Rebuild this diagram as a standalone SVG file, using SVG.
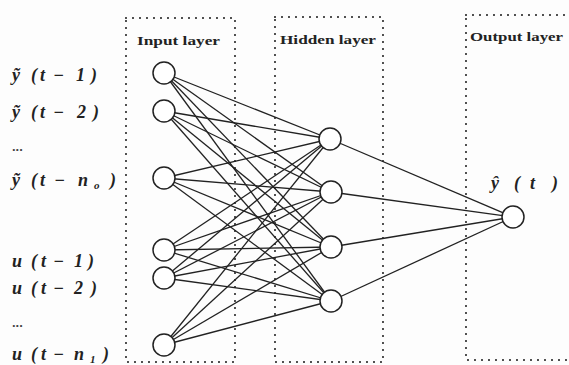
<svg xmlns="http://www.w3.org/2000/svg" width="569" height="365" viewBox="0 0 569 365">
  <style>
    .box { fill: none; stroke: #2a2a2a; stroke-width: 2.2; stroke-dasharray: 0 7; stroke-linecap: round; }
    .edge { stroke: #222; stroke-width: 1.3; fill: none; }
    .node { fill: #fff; stroke: #222; stroke-width: 1.5; }
    .layer { font-family: "Liberation Serif", "DejaVu Serif", serif; font-weight: bold; font-size: 13px; fill: #222; }
    .var { font-family: "Liberation Serif", "DejaVu Serif", serif; font-style: italic; font-weight: bold; font-size: 18px; fill: #222; }
    .dots { font-family: "Liberation Sans", sans-serif; font-weight: bold; font-size: 13px; fill: #444; }
    .sub { font-size: 11px; }
  </style>
  <rect width="569" height="365" fill="#fdfdfd"/>

  <!-- layer frames -->
  <g id="frames">
    <rect class="box" x="126" y="18" width="109" height="344"/>
    <rect class="box" x="275" y="17" width="108" height="345"/>
    <rect class="box" x="466" y="15" width="112" height="345"/>
  </g>

  <!-- connections: every input to every hidden unit, every hidden unit to the output -->
  <g id="connectors">
    <line class="edge" x1="164" y1="73" x2="330" y2="139"/>
    <line class="edge" x1="164" y1="73" x2="331" y2="192"/>
    <line class="edge" x1="164" y1="73" x2="331" y2="247"/>
    <line class="edge" x1="164" y1="73" x2="331" y2="301"/>
    <line class="edge" x1="164" y1="111" x2="330" y2="139"/>
    <line class="edge" x1="164" y1="111" x2="331" y2="192"/>
    <line class="edge" x1="164" y1="111" x2="331" y2="247"/>
    <line class="edge" x1="164" y1="111" x2="331" y2="301"/>
    <line class="edge" x1="164" y1="178" x2="330" y2="139"/>
    <line class="edge" x1="164" y1="178" x2="331" y2="192"/>
    <line class="edge" x1="164" y1="178" x2="331" y2="247"/>
    <line class="edge" x1="164" y1="178" x2="331" y2="301"/>
    <line class="edge" x1="164" y1="250" x2="330" y2="139"/>
    <line class="edge" x1="164" y1="250" x2="331" y2="192"/>
    <line class="edge" x1="164" y1="250" x2="331" y2="247"/>
    <line class="edge" x1="164" y1="250" x2="331" y2="301"/>
    <line class="edge" x1="164" y1="278" x2="330" y2="139"/>
    <line class="edge" x1="164" y1="278" x2="331" y2="192"/>
    <line class="edge" x1="164" y1="278" x2="331" y2="247"/>
    <line class="edge" x1="164" y1="278" x2="331" y2="301"/>
    <line class="edge" x1="164" y1="345" x2="330" y2="139"/>
    <line class="edge" x1="164" y1="345" x2="331" y2="192"/>
    <line class="edge" x1="164" y1="345" x2="331" y2="247"/>
    <line class="edge" x1="164" y1="345" x2="331" y2="301"/>
    <line class="edge" x1="330" y1="139" x2="513" y2="217"/>
    <line class="edge" x1="331" y1="192" x2="513" y2="217"/>
    <line class="edge" x1="331" y1="247" x2="513" y2="217"/>
    <line class="edge" x1="331" y1="301" x2="513" y2="217"/>
  </g>

  <!-- input layer -->
  <g id="input-layer">
    <text class="layer" x="137" y="45" textLength="83" lengthAdjust="spacingAndGlyphs">Input layer</text>
  </g>
  <g id="in1"><circle class="node" cx="164" cy="73" r="11"/>
    <text class="var" y="81"><tspan x="12">ỹ</tspan><tspan x="31">(</tspan><tspan x="40">t</tspan><tspan x="53">−</tspan><tspan x="76">1</tspan><tspan x="91">)</tspan></text></g>
  <g id="in2"><circle class="node" cx="164" cy="111" r="11"/>
    <text class="var" y="118"><tspan x="12">ỹ</tspan><tspan x="31">(</tspan><tspan x="40">t</tspan><tspan x="53">−</tspan><tspan x="77">2</tspan><tspan x="93">)</tspan></text></g>
  <text class="dots" x="12" y="151">...</text>
  <g id="in3"><circle class="node" cx="164" cy="178" r="11"/>
    <text class="var" y="186"><tspan x="12">ỹ</tspan><tspan x="31">(</tspan><tspan x="40">t</tspan><tspan x="54">−</tspan><tspan x="78">n</tspan><tspan class="sub" x="94" dy="3">o</tspan><tspan x="110" dy="-3">)</tspan></text></g>
  <g id="in4"><circle class="node" cx="164" cy="250" r="11"/>
    <text class="var" y="267"><tspan x="12">u</tspan><tspan x="31">(</tspan><tspan x="41">t</tspan><tspan x="53">−</tspan><tspan x="74">1</tspan><tspan x="88">)</tspan></text></g>
  <g id="in5"><circle class="node" cx="164" cy="278" r="11"/>
    <text class="var" y="294"><tspan x="12">u</tspan><tspan x="31">(</tspan><tspan x="41">t</tspan><tspan x="53">−</tspan><tspan x="74">2</tspan><tspan x="91">)</tspan></text></g>
  <text class="dots" x="12" y="327">...</text>
  <g id="in6"><circle class="node" cx="164" cy="345" r="11"/>
    <text class="var" y="360"><tspan x="12">u</tspan><tspan x="31">(</tspan><tspan x="41">t</tspan><tspan x="53">−</tspan><tspan x="74">n</tspan><tspan class="sub" x="90" dy="3">1</tspan><tspan x="103" dy="-3">)</tspan></text></g>

  <!-- hidden layer -->
  <g id="hidden-layer">
    <text class="layer" x="280" y="44" textLength="96" lengthAdjust="spacingAndGlyphs">Hidden layer</text>
  </g>
  <g id="h1"><circle class="node" cx="330" cy="139" r="11"/></g>
  <g id="h2"><circle class="node" cx="331" cy="192" r="11"/></g>
  <g id="h3"><circle class="node" cx="331" cy="247" r="11"/></g>
  <g id="h4"><circle class="node" cx="331" cy="301" r="11"/></g>

  <!-- output layer -->
  <g id="output-layer">
    <text class="layer" x="470" y="41" textLength="93" lengthAdjust="spacingAndGlyphs">Output layer</text>
  </g>
  <g id="out"><circle class="node" cx="513" cy="217" r="11"/>
    <text class="var" y="189"><tspan x="491">ŷ</tspan><tspan x="514">(</tspan><tspan x="530">t</tspan><tspan x="552">)</tspan></text></g>
</svg>
